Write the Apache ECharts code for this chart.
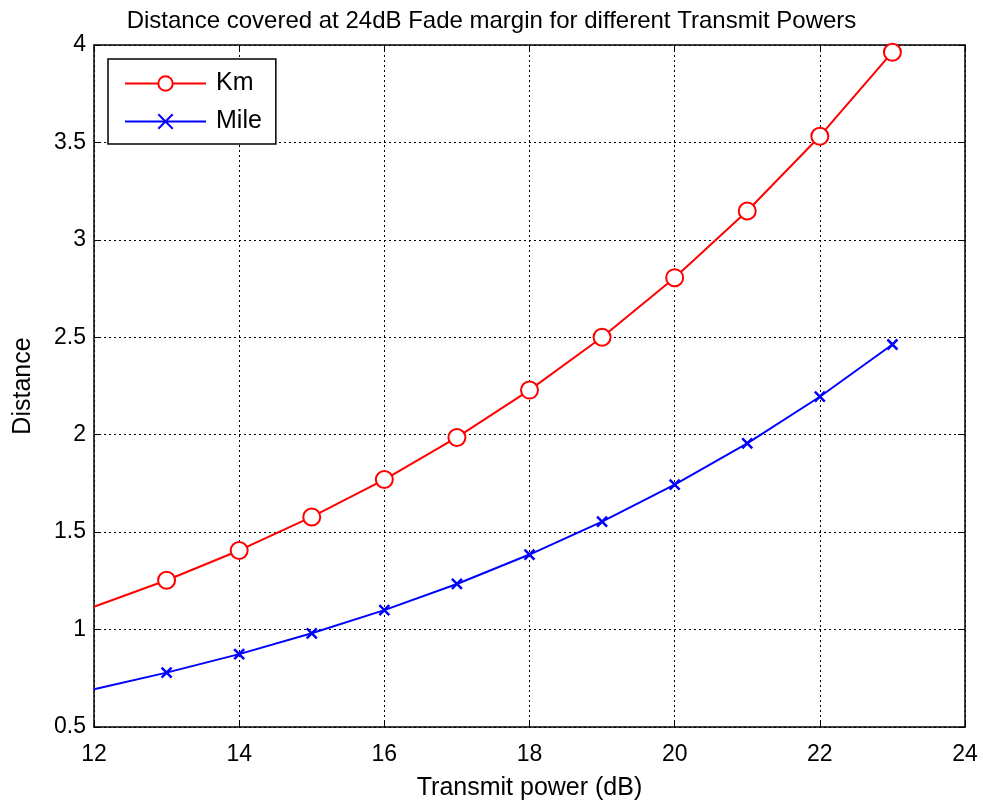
<!DOCTYPE html>
<html>
<head>
<meta charset="utf-8">
<script src="https://cdn.jsdelivr.net/npm/echarts@6/dist/echarts.min.js"></script>
<style>
html,body{margin:0;padding:0;background:#fff;}
#main{width:983px;height:803px;}
</style>
</head>
<body>
<div id="main"></div>
<script>
// transmit power (dB)
var power = [12, 13, 14, 15, 16, 17, 18, 19, 20, 21, 22, 23];
// distance in km / mile
var kmValues = [1.117, 1.253, 1.406, 1.578, 1.770, 1.986, 2.229, 2.500, 2.806, 3.148, 3.532, 3.963];
var mileValues = [0.694, 0.779, 0.874, 0.981, 1.100, 1.234, 1.385, 1.554, 1.744, 1.956, 2.195, 2.463];
var seriesNames = ['Km', 'Mile'];

var fontFam = 'Arial, "Liberation Sans", sans-serif';

function buildData(vals){
    var out = [];
    for (var i = 0; i < power.length; i++) {
        var item = {value: [power[i], vals[i]]};
        if (i == 0) item.symbol = 'none'; // no marker at 12
        out.push(item);
    }
    return out;
}

var axisLineStyle = {show: true, lineStyle: {color: '#000', width: 1.5}};
var tickStyle = {show: true, inside: true, length: 7, lineStyle: {color: '#000', width: 1}};

var option = {
    animation: false,
    title: {
        text: 'Distance covered at 24dB Fade margin for different Transmit Powers',
        left: 'center',
        top: 4,
        textStyle: {fontFamily: fontFam, fontSize: 24, fontWeight: 'normal', color: '#000'}
    },
    legend: {
        orient: 'vertical',
        left: 108,
        top: 59,
        data: seriesNames,
        backgroundColor: '#fff',
        borderColor: '#000',
        borderWidth: 1.5,
        padding: [12, 14, 10, 16],
        itemWidth: 81,
        itemHeight: 18,
        itemGap: 13,
        textStyle: {fontFamily: fontFam, fontSize: 25, color: '#000', padding: [0, 0, 0, 5]}
    },
    grid: {left: 94, right: 18, top: 45, bottom: 76, containLabel: false, outerBoundsMode: 'none'},
    xAxis: [{
        type: 'value',
        min: 12, max: 24, interval: 2,
        name: 'Transmit power (dB)',
        nameLocation: 'middle',
        nameGap: 49,
        nameTextStyle: {fontFamily: fontFam, fontSize: 25, color: '#000'},
        axisLine: axisLineStyle,
        axisTick: tickStyle,
        axisLabel: {fontFamily: fontFam, fontSize: 23, color: '#000', margin: 16},
        splitLine: {show: true, lineStyle: {color: '#000', type: [2, 3], width: 1}}
    }, {
        type: 'value', position: 'top',
        min: 12, max: 24, interval: 2,
        axisLine: axisLineStyle,
        axisTick: tickStyle,
        axisLabel: {show: false},
        splitLine: {show: false}
    }],
    yAxis: [{
        type: 'value',
        min: 0.5, max: 4, interval: 0.5,
        name: 'Distance',
        nameLocation: 'middle',
        nameGap: 58,
        nameTextStyle: {fontFamily: fontFam, fontSize: 25, color: '#000'},
        axisLine: axisLineStyle,
        axisTick: tickStyle,
        axisLabel: {fontFamily: fontFam, fontSize: 23, color: '#000', margin: 8},
        splitLine: {show: true, lineStyle: {color: '#000', type: [2, 3], width: 1}}
    }, {
        type: 'value', position: 'right',
        min: 0.5, max: 4, interval: 0.5,
        axisLine: axisLineStyle,
        axisTick: tickStyle,
        axisLabel: {show: false},
        splitLine: {show: false}
    }],
    series: [{
        name: 'Km',
        type: 'line',
        data: buildData(kmValues),
        symbol: 'circle',
        symbolSize: 17,
        showAllSymbol: true,
        itemStyle: {color: '#fff', borderColor: '#ff0000', borderWidth: 2},
        lineStyle: {color: '#ff0000', width: 2},
        z: 3
    }, {
        name: 'Mile',
        type: 'line',
        data: buildData(mileValues),
        symbol: 'path://M0,0L10,10M10,0L0,10',
        symbolSize: 10,
        showAllSymbol: true,
        itemStyle: {color: 'none', borderColor: '#0000ff', borderWidth: 2.5},
        lineStyle: {color: '#0000ff', width: 2},
        z: 3
    }]
};

var myChart = echarts.init(document.getElementById('main'));
myChart.setOption(option);
</script>
</body>
</html>
